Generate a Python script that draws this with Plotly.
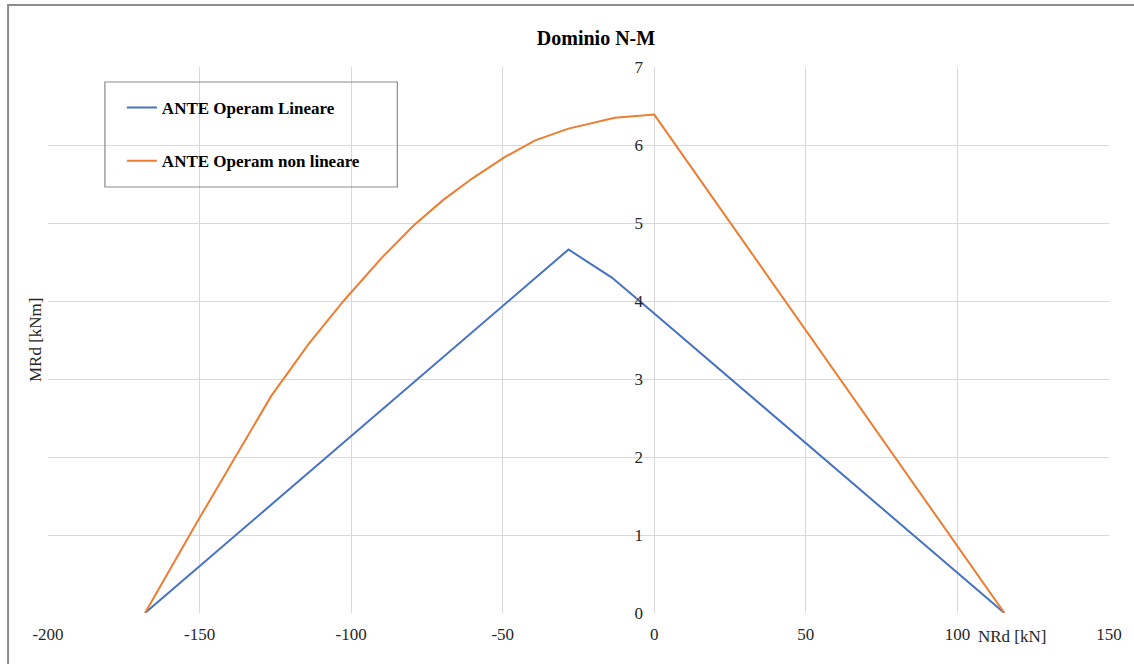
import plotly.graph_objects as go

# Interaction domain N-M: axial force NRd [kN] vs bending moment MRd [kNm]
n_lineare = [-168.0, -28.3, -14.0, 0.0, 115.5]
m_lineare = [0.0, 4.66, 4.30, 3.84, 0.0]

n_non_lineare = [-168.0, -160.0, -150.0, -140.0, -126.4, -114.0, -102.3, -90.0,
                 -79.3, -69.8, -60.1, -49.1, -39.3, -28.3, -13.0, 0.0, 115.5]
m_non_lineare = [0.0, 0.55, 1.22, 1.88, 2.78, 3.45, 4.01, 4.55,
                 4.97, 5.29, 5.57, 5.85, 6.06, 6.21, 6.35, 6.39, 0.0]

series_names = ["ANTE Operam Lineare", "ANTE Operam non lineare"]
x_ticks = [-200, -150, -100, -50, 0, 50, 100, 150]
x_tick_text = ["-200", "-150", "-100", "-50", "0", "50", "100", "150"]
y_ticks = [0, 1, 2, 3, 4, 5, 6, 7]

W, H = 1134, 664
ML, MR, MT, MB = 48, 23, 67, 51
PW, PH = W - ML - MR, H - MT - MB


def px_x(px):
    return (px - ML) / PW


def px_y(py):
    return (H - MB - py) / PH


FONT = "Liberation Serif"
BLUE = "#4472C4"
ORANGE = "#ED7D31"
GRID = "#D9D9D9"
TXT = "#262626"

fig = go.Figure()
fig.add_trace(go.Scatter(x=n_lineare, y=m_lineare, mode="lines", name=series_names[0],
                         legendgroup="a", line=dict(color=BLUE, width=2)))
fig.add_trace(go.Scatter(x=n_non_lineare, y=m_non_lineare, mode="lines", name=series_names[1],
                         legendgroup="b", line=dict(color=ORANGE, width=2)))

y_pos = (0 - x_ticks[0]) / (x_ticks[-1] - x_ticks[0])

fig.update_layout(
    width=W, height=H,
    margin=dict(l=ML, r=MR, t=MT, b=MB),
    paper_bgcolor="white", plot_bgcolor="white",
    font=dict(family=FONT, size=17, color=TXT),
    title=dict(text="<b>Dominio N-M</b>", font=dict(family=FONT, size=20, color="black"),
               xref="paper", x=px_x(597), xanchor="center",
               yref="container", y=1 - 38 / H, yanchor="middle"),
    xaxis=dict(range=[x_ticks[0], x_ticks[-1]], tickvals=x_ticks, ticktext=x_tick_text,
               showgrid=True, gridcolor=GRID, gridwidth=1, zeroline=False, showline=False,
               ticks="outside", ticklen=6, tickcolor="rgba(0,0,0,0)",
               tickfont=dict(family=FONT, size=17, color=TXT)),
    yaxis=dict(range=[y_ticks[0], y_ticks[-1]], tickvals=y_ticks, showgrid=True,
               gridcolor=GRID, gridwidth=1, zeroline=False, showline=False,
               anchor="free", position=y_pos,
               ticks="outside", ticklen=8, tickcolor="rgba(0,0,0,0)",
               tickfont=dict(family=FONT, size=17, color=TXT)),
    showlegend=True,
    legend=dict(x=px_x(122), y=px_y(90), xanchor="left", yanchor="top",
                bgcolor="rgba(0,0,0,0)", borderwidth=0,
                traceorder="grouped", tracegroupgap=28, itemwidth=30,
                font=dict(family=FONT, size=17, color="black", weight="bold")),
    shapes=[
        # legend frame
        dict(type="rect", xref="paper", yref="paper",
             x0=px_x(105), x1=px_x(398), y0=px_y(187), y1=px_y(82),
             line=dict(color="#8C8C8C", width=1.2), fillcolor="rgba(0,0,0,0)", layer="above"),
        # chart frame
        dict(type="rect", xref="paper", yref="paper",
             x0=px_x(8), x1=px_x(1170), y0=px_y(700), y1=px_y(5),
             line=dict(color="#8C8C8C", width=2), fillcolor="rgba(0,0,0,0)"),
    ],
    annotations=[
        dict(text="MRd [kNm]", xref="paper", yref="paper", x=px_x(35), y=px_y(340),
             textangle=-90, showarrow=False, xanchor="center", yanchor="middle",
             font=dict(family=FONT, size=17, color=TXT)),
        dict(text="NRd [kN]", xref="paper", yref="paper", x=px_x(1014), y=px_y(636),
             showarrow=False, xanchor="center", yanchor="middle",
             font=dict(family=FONT, size=17, color=TXT)),
    ],
)

fig.write_html("out.html")
